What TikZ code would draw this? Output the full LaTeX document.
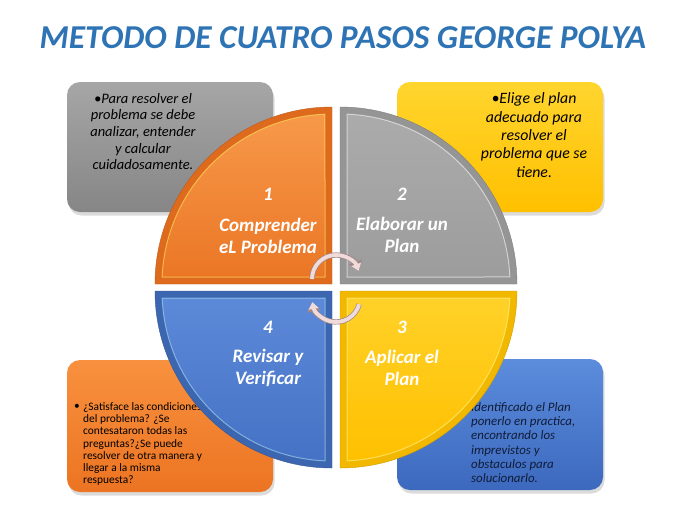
\documentclass[tikz,border=0pt]{standalone}
\usepackage{fontspec}
\setmainfont{Carlito}
\usetikzlibrary{shadows,arrows.meta}
\definecolor{titleblue}{HTML}{2E74B5}
\definecolor{gboxT}{HTML}{A6A6A6}
\definecolor{gboxB}{HTML}{868686}
\definecolor{yboxT}{HTML}{FFD52E}
\definecolor{yboxB}{HTML}{FFC000}
\definecolor{oboxT}{HTML}{F8913F}
\definecolor{oboxB}{HTML}{EC7422}
\definecolor{bboxT}{HTML}{5C8CDC}
\definecolor{bboxB}{HTML}{3C69BE}
\definecolor{oband}{HTML}{DE6A1E}
\definecolor{oT}{HTML}{F7994A}
\definecolor{oB}{HTML}{EA7524}
\definecolor{gband}{HTML}{959595}
\definecolor{gT}{HTML}{ABABAB}
\definecolor{gB}{HTML}{9C9C9C}
\definecolor{yband}{HTML}{F2B800}
\definecolor{yT}{HTML}{FFD22A}
\definecolor{yB}{HTML}{FFC000}
\definecolor{bband}{HTML}{3C66B0}
\definecolor{bT}{HTML}{5E8ADA}
\definecolor{bB}{HTML}{4572C4}
\definecolor{navytext}{HTML}{101C38}
\definecolor{cycfill}{HTML}{F0DADA}
\definecolor{cycline}{HTML}{A08888}
\newcommand\pieq[7]{%
  \fill[#4] (#1,#2) -- ++(#3:177) arc[start angle=#3, delta angle=90, radius=177] -- cycle;
  \path[top color=#5, bottom color=#6] (#1,#2) ++(#3+45:9.9) -- ++(#3:162.86)
     arc[start angle=#3+2.36, delta angle=85.28, radius=170] -- cycle;
  \draw[#7, line width=1pt, opacity=0.55] (#1,#2) ++(#3+45:9.9) -- ++(#3:162.86)
     arc[start angle=#3+2.36, delta angle=85.28, radius=170] -- cycle;
  \draw[#4!85!black, line width=0.4pt] (#1,#2) -- ++(#3:177) arc[start angle=#3, delta angle=90, radius=177] -- cycle;
}
\begin{document}
\begin{tikzpicture}[x=1pt,y=-1pt,
  box/.style={rounded corners=13pt, minimum width=206pt, inner sep=0pt,
    drop shadow={opacity=0.28, shadow xshift=1.5pt, shadow yshift=-3.5pt}},
  title/.style={text=titleblue, font=\fontsize{33.4}{38}\selectfont\bfseries\itshape, inner sep=0pt},
  qlab/.style={text=white, font=\fontsize{19}{22}\selectfont\bfseries\itshape, align=center, inner sep=0pt},
  txt/.style={inner sep=0pt, text=black},
  cyc/.style={line width=3.8pt, draw=cycfill, -{Triangle[width=0pt 2.6, length=0pt 1.8]},
    preaction={draw=cycline, line width=5.2pt, -{Triangle[width=0pt 2.6, length=0pt 1.8]}}}
]
\useasboundingbox (0,0) rectangle (687,520);
\fill[white] (0,0) rectangle (687,520);

% title
\node[title] (title) at (343,38) {METODO DE CUATRO PASOS GEORGE POLYA};

% boxes
\node[box, top color=gboxT, bottom color=gboxB, minimum height=130pt] (b1) at (170,147) {};
\node[box, top color=yboxT, bottom color=yboxB, minimum height=130pt] (b2) at (500,147) {};
\node[box, top color=oboxT, bottom color=oboxB, minimum height=132pt] (b4) at (170,426) {};
\node[box, top color=bboxT, bottom color=bboxB, minimum height=131pt] (b3) at (500,424.5) {};

% box texts
\node[txt, align=center, font=\fontsize{14.5}{16.6}\selectfont\itshape] (x1) at (143,131.5)
  {•Para resolver el\\problema se debe\\analizar, entender\\y calcular\\cuidadosamente.};
\node[txt, align=center, font=\fontsize{15.8}{18.4}\selectfont\itshape] (x2) at (534,135)
  {•Elige el plan\\adecuado para\\resolver el\\problema que se\\tiene.};
\node[txt, font=\fontsize{11.4}{12.3}\selectfont] (x4b) at (77,407) {•};
\node[txt, align=left, anchor=west, font=\fontsize{11.4}{12.3}\selectfont] (x4) at (83,444)
  {¿Satisface las condiciones\\del problema? ¿Se\\contesataron todas las\\preguntas?¿Se puede\\resolver de otra manera y\\llegar a la misma\\respuesta?};
\node[txt, text=navytext, align=left, anchor=west, font=\fontsize{12.9}{14.2}\selectfont\itshape] (x3) at (471,442.5)
  {Identificado el Plan\\ponerlo en practica,\\encontrando los\\imprevistos y\\obstaculos para\\solucionarlo.};

% quadrants
\pieq{332}{284}{180}{oband}{oT}{oB}{orange!20!yellow!60!white}
\pieq{340}{284}{270}{gband}{gT}{gB}{white}
\pieq{340}{291}{0}{yband}{yT}{yB}{yellow!40!white}
\pieq{332}{291}{90}{bband}{bT}{bB}{cyan!30!white}

% quadrant labels
\node[qlab] (n1) at (268,194) {1};
\node[qlab] (t1) at (268,236) {Comprender\\eL Problema};
\node[qlab] (n2) at (402,194) {2};
\node[qlab] (t2) at (402,235) {Elaborar un\\Plan};
\node[qlab] (n3) at (402,327) {3};
\node[qlab] (t3) at (402,367.5) {Aplicar el\\Plan};
\node[qlab] (n4) at (268,327) {4};
\node[qlab] (t4) at (268,367.5) {Revisar y\\Verificar};

% circular arrows
\coordinate (u1) at (312,279);
\coordinate (l1) at (359.2,304.2);
\draw[cyc] (u1) arc[start angle=180, end angle=340, radius=24];
\draw[cyc] (l1) arc[start angle=15, end angle=170, radius=24];
\end{tikzpicture}
\end{document}
